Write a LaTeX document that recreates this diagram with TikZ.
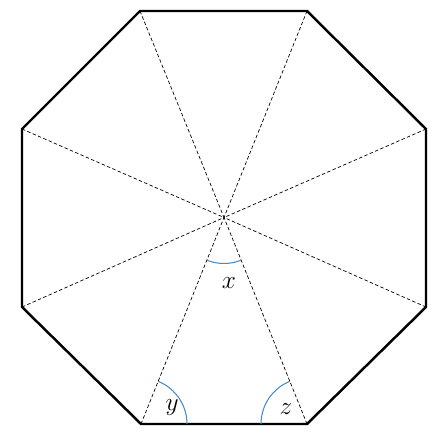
\documentclass[tikz,border=0pt]{standalone}
\usepackage{tikz}
\usetikzlibrary{angles}
\definecolor{arcblue}{RGB}{68,138,201}
\tikzstyle{edge} = [line width=1.4pt, line join=miter]
\tikzstyle{diag} = [line width=0.4pt, dash pattern=on 2pt off 1.3pt]
\tikzstyle{anglearc} = [draw=arcblue, line width=0.6pt, angle radius=0.92cm]
\tikzstyle{lbl} = [font=\fontsize{15}{17}\selectfont]

\begin{document}
\begin{tikzpicture}[x=0.02cm, y=0.02cm]
\useasboundingbox (0,0) rectangle (445,443);

%% octagon corners
\coordinate (a) at (140,432);
\coordinate (b) at (307,432);
\coordinate (c) at (426,314);
\coordinate (d) at (426,136);
\coordinate (e) at (307,19);
\coordinate (f) at (141,19);
\coordinate (g) at (22,136);
\coordinate (h) at (22,314);
\coordinate (o) at (224,225.5);

%% dashed lines to the centre
\foreach \v in {a,b,c,d,e,f,g,h}
  \draw [diag] (\v) -- (o);

\draw [edge] (a) -- (b) -- (c) -- (d) -- (e) -- (f) -- (g) -- (h) -- cycle;

%% angles
\pic [anglearc] {angle = f--o--e};
\pic [anglearc] {angle = e--f--o};
\pic [anglearc] {angle = o--e--f};

\node (lx) [lbl] at (229,160) {$x$};
\node (ly) [lbl] at (172,35) {$y$};
\node (lz) [lbl] at (286,34) {$z$};

\end{tikzpicture}
\end{document}
